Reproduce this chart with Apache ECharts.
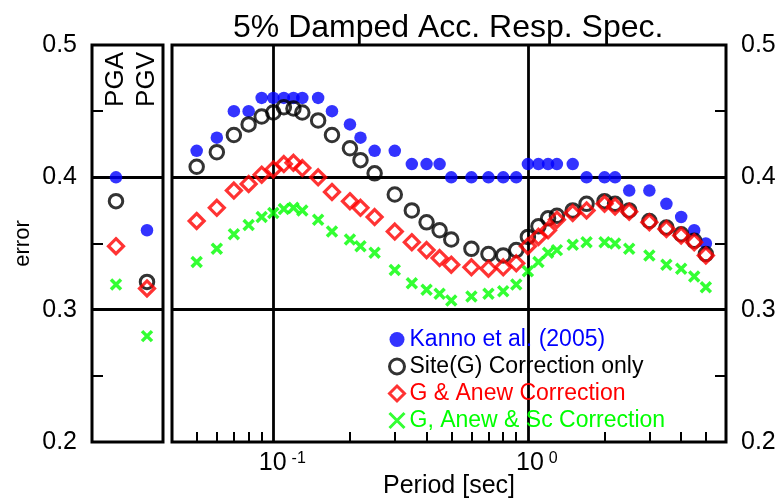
<!DOCTYPE html>
<html>
<head>
<meta charset="utf-8">
<script src="https://cdn.jsdelivr.net/npm/echarts@6/dist/echarts.min.js"></script>
<style>html,body{margin:0;padding:0;background:#fff}#c{width:782px;height:503px}</style>
</head>
<body>
<div id="c"></div>
<script>
// ---- data ----
const titleText = '5% Damped Acc. Resp. Spec.';
const seriesNames = ['Kanno et al. (2005)', 'Site(G) Correction only', 'G & Anew Correction', 'G, Anew & Sc Correction'];
const pgCategories = ['PGA', 'PGV'];
const kannoPG   = [0.400, 0.360];
const siteGPG   = [0.382, 0.321];
const gAnewPG   = [0.348, 0.316];
const gAnewScPG = [0.319, 0.280];

const periods = [0.05,0.06,0.07,0.08,0.09,0.10,0.11,0.12,0.13,0.15,0.17,0.20,0.22,0.25,0.30,0.35,0.40,0.45,0.50,0.60,0.70,0.80,0.90,1.0,1.1,1.2,1.3,1.5,1.7,2.0,2.2,2.5,3.0,3.5,4.0,4.5,5.0];
const kanno   = [0.42,0.43,0.45,0.45,0.46,0.46,0.46,0.46,0.46,0.46,0.45,0.44,0.43,0.42,0.42,0.41,0.41,0.41,0.40,0.40,0.40,0.40,0.40,0.41,0.41,0.41,0.41,0.41,0.40,0.40,0.40,0.39,0.39,0.38,0.37,0.36,0.35];
const siteG   = [0.408,0.419,0.432,0.440,0.446,0.449,0.453,0.452,0.449,0.443,0.432,0.422,0.413,0.403,0.387,0.375,0.366,0.360,0.353,0.346,0.342,0.341,0.345,0.355,0.363,0.369,0.371,0.375,0.380,0.382,0.380,0.375,0.367,0.362,0.357,0.352,0.342];
const gAnew   = [0.367,0.377,0.390,0.395,0.402,0.406,0.410,0.411,0.407,0.400,0.389,0.382,0.377,0.370,0.359,0.351,0.345,0.339,0.334,0.332,0.331,0.332,0.335,0.348,0.355,0.360,0.368,0.373,0.375,0.380,0.378,0.374,0.366,0.361,0.356,0.351,0.341];
const gAnewSc = [0.336,0.346,0.357,0.364,0.370,0.373,0.376,0.377,0.375,0.368,0.359,0.353,0.348,0.343,0.330,0.320,0.315,0.312,0.307,0.310,0.312,0.314,0.319,0.329,0.336,0.343,0.345,0.349,0.351,0.351,0.350,0.346,0.341,0.334,0.331,0.325,0.317];

const yTicks = [0.2, 0.3, 0.4, 0.5];
const yGridLines = [0.3, 0.4];
const yMinorTicks = [0.25, 0.35, 0.45];
const xMajorTicks = [0.1, 1];
const xMinorTicks = [0.05,0.06,0.07,0.08,0.09,0.2,0.3,0.4,0.5,0.6,0.7,0.8,0.9,2,3,4,5];

// ---- styles ----
const FONT = 'Liberation Sans, Arial, Helvetica, sans-serif';
const colors = ['#0000ff', '#000000', '#ff0000', '#00ff00'];
const symbols = ['circle', 'circle', 'diamond', 'path://M0,0L10,10M0,10L10,0'];
const symbolSizes = [12.5, 13.5, 15, 10];
const itemStyles = [
  {color: colors[0], borderWidth: 0},
  {color: 'transparent', borderColor: colors[1], borderWidth: 3},
  {color: 'transparent', borderColor: colors[2], borderWidth: 3.2},
  {color: 'none', borderColor: colors[3], borderWidth: 3.5}
];
const pgSets = [kannoPG, siteGPG, gAnewPG, gAnewScPG];
const spSets = [kanno, siteG, gAnew, gAnewSc];

const gridLineStyle = {color: '#000', width: 2.8, type: 'solid'};
function markLines(list) {
  return {silent: true, symbol: 'none', label: {show: false}, z: 1, animation: false,
          lineStyle: gridLineStyle, emphasis: {disabled: true}, data: list};
}

const series = [];
for (let i = 0; i < 4; i++) {
  const s = {
    name: seriesNames[i], type: 'scatter', xAxisIndex: 0, yAxisIndex: 0,
    symbol: symbols[i], symbolSize: symbolSizes[i], itemStyle: itemStyles[i],
    data: pgSets[i].map((v, k) => [k, v]), z: 3 + i, animation: false
  };
  if (i === 0) s.markLine = markLines(yGridLines.map(v => ({yAxis: v})));
  series.push(s);
}
for (let i = 0; i < 4; i++) {
  const s = {
    name: seriesNames[i], type: 'scatter', xAxisIndex: 1, yAxisIndex: 1,
    symbol: symbols[i], symbolSize: symbolSizes[i], itemStyle: itemStyles[i],
    data: periods.map((p, k) => [p, spSets[i][k]]), z: 3 + i, animation: false
  };
  if (i === 0) s.markLine = markLines(yGridLines.map(v => ({yAxis: v})).concat(xMajorTicks.map(v => ({xAxis: v}))));
  series.push(s);
}

const tickStyle = {show: true, inside: true, length: 11, lineStyle: {color: '#000', width: 2}};

const option = {
  backgroundColor: '#fff',
  animation: false,
  textStyle: {fontFamily: FONT, color: '#000'},
  title: {text: titleText, left: 228, top: 7, textStyle: {fontFamily: FONT, fontSize: 32, fontWeight: 'normal', color: '#000'}},
  grid: [
    {left: 92, right: 619, top: 45, bottom: 61, show: true, borderColor: '#000', borderWidth: 3, backgroundColor: 'transparent', containLabel: false, outerBoundsMode: 'none'},
    {left: 172, right: 56, top: 45, bottom: 61, show: true, borderColor: '#000', borderWidth: 3, backgroundColor: 'transparent', containLabel: false, outerBoundsMode: 'none'}
  ],
  xAxis: [
    {gridIndex: 0, type: 'value', position: 'top', min: -0.774, max: 1.516,
     axisLine: {show: false, onZero: false}, axisTick: {show: false}, splitLine: {show: false},
     axisLabel: {show: true, inside: true, rotate: -90, margin: 7, customValues: [0, 1], hideOverlap: false,
       formatter: v => pgCategories[Math.round(v)] || '', fontSize: 26, color: '#000', fontFamily: FONT}},
    {gridIndex: 1, type: 'log', logBase: 10, min: 0.04, max: 6, position: 'bottom',
     axisLine: {show: false, onZero: false},
     axisTick: {show: true, inside: true, length: 10, customValues: xMinorTicks, lineStyle: {color: '#000', width: 2}},
     splitLine: {show: false},
     axisLabel: {show: true, margin: 9, customValues: xMajorTicks,
       formatter: v => '{b|10}{s|' + Math.round(Math.log10(v)) + '}',
       rich: {b: {fontSize: 25, fontFamily: FONT, color: '#000', padding: [0, 0, 0, 18], verticalAlign: 'top'},
              s: {fontSize: 16, fontFamily: FONT, color: '#000', padding: [0, 0, 0, 5], verticalAlign: 'top'}}},
     name: 'Period [sec]', nameLocation: 'middle', nameGap: 32, nameMoveOverlap: false,
     nameTextStyle: {fontSize: 25, fontFamily: FONT, color: '#000'}}
  ],
  yAxis: [
    {gridIndex: 0, type: 'value', position: 'left', min: 0.2, max: 0.5, interval: 0.1,
     axisLine: {show: false, onZero: false}, axisTick: Object.assign({customValues: yMinorTicks}, tickStyle),
     splitLine: {show: false},
     axisLabel: {fontSize: 25, color: '#000', margin: 15, fontFamily: FONT, customValues: yTicks, formatter: v => v.toFixed(1)},
     name: 'error', nameLocation: 'middle', nameGap: 58, nameMoveOverlap: false,
     nameTextStyle: {fontSize: 22, fontFamily: FONT, color: '#000'}},
    {gridIndex: 1, type: 'value', position: 'right', min: 0.2, max: 0.5, interval: 0.1,
     axisLine: {show: false, onZero: false}, axisTick: Object.assign({customValues: yMinorTicks}, tickStyle),
     splitLine: {show: false},
     axisLabel: {fontSize: 25, color: '#000', margin: 15, fontFamily: FONT, customValues: yTicks, formatter: v => v.toFixed(1)}}
  ],
  legend: {
    orient: 'vertical', left: 387, top: 328, padding: 0, itemGap: 4,
    itemWidth: 15, itemHeight: 15, selectedMode: false,
    itemStyle: {borderWidth: 3},
    data: seriesNames.map((n, i) => ({name: n, textStyle: {color: colors[i]}})),
    textStyle: {fontSize: 23, fontFamily: FONT, padding: [0, 0, 0, 0]}
  },
  series: series
};

const chart = echarts.init(document.getElementById('c'), null, {renderer: 'canvas'});
chart.setOption(option);
</script>
</body>
</html>
